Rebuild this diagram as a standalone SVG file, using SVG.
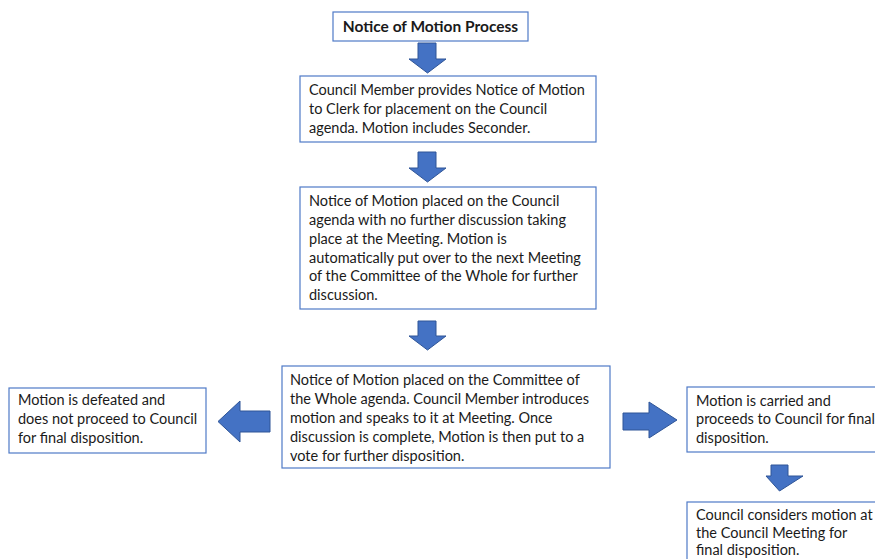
<svg xmlns="http://www.w3.org/2000/svg" width="875" height="559" viewBox="0 0 875 559">
<style>
.box{fill:#fff;stroke:#4f7ac7;stroke-width:1.2}
.t{font-family:Lato,"Liberation Sans",sans-serif;font-size:14.5px;fill:#1a1a1a}
.b{font-weight:bold;font-size:15.5px}
.arr{fill:#4472c4;stroke:#2f5597;stroke-width:1}
</style>
<rect width="875" height="559" fill="#fff"/>
<g id="connectors">
<polygon class="arr" points="418,43 436,43 436,59 446,59 427.5,73 409,59 418,59"/>
<polygon class="arr" points="418,152 436,152 436,168 446,168 427.5,182 409,168 418,168"/>
<polygon class="arr" points="418,321 436,321 436,336 446,336 427.5,350 409,336 418,336"/>
<polygon class="arr" points="270,411 240,411 240,401 218,421.5 240,442 240,432 270,432"/>
<polygon class="arr" points="623,413 649,413 649,402 677,420 649,438 649,430 623,430"/>
<polygon class="arr" points="771,465 788,465 788,476 803,476 779.5,491 766,476 771,476"/>
</g>
<g id="title">
<rect class="box" x="333" y="12" width="195" height="29"/>
<text class="t b" x="430.5" y="31.5" text-anchor="middle">Notice of Motion Process</text>
</g>
<g id="step1">
<rect class="box" x="300" y="76" width="296" height="66"/>
<text class="t" x="309"><tspan x="309" y="95">Council Member provides Notice of Motion</tspan><tspan x="309" y="114">to Clerk for placement on the Council</tspan><tspan x="309" y="133">agenda. Motion includes Seconder.</tspan></text>
</g>
<g id="step2">
<rect class="box" x="300" y="187" width="296" height="122"/>
<text class="t"><tspan x="309" y="206">Notice of Motion placed on the Council</tspan><tspan x="309" y="225">agenda with no further discussion taking</tspan><tspan x="309" y="244">place at the Meeting. Motion is</tspan><tspan x="309" y="263">automatically put over to the next Meeting</tspan><tspan x="309" y="281">of the Committee of the Whole for further</tspan><tspan x="309" y="300">discussion.</tspan></text>
</g>
<g id="step3">
<rect class="box" x="282" y="366" width="328" height="102"/>
<text class="t"><tspan x="290" y="385">Notice of Motion placed on the Committee of</tspan><tspan x="290" y="404">the Whole agenda. Council Member introduces</tspan><tspan x="290" y="423">motion and speaks to it at Meeting. Once</tspan><tspan x="290" y="442">discussion is complete, Motion is then put to a</tspan><tspan x="290" y="461">vote for further disposition.</tspan></text>
</g>
<g id="defeated">
<rect class="box" x="9" y="388" width="197" height="65"/>
<text class="t"><tspan x="18" y="405">Motion is defeated and</tspan><tspan x="18" y="424">does not proceed to Council</tspan><tspan x="18" y="443">for final disposition.</tspan></text>
</g>
<g id="carried">
<rect class="box" x="687" y="387" width="200" height="65"/>
<text class="t"><tspan x="696" y="406">Motion is carried and</tspan><tspan x="696" y="424">proceeds to Council for final</tspan><tspan x="696" y="443">disposition.</tspan></text>
</g>
<g id="council">
<rect class="box" x="687" y="502" width="200" height="70"/>
<text class="t"><tspan x="696" y="520">Council considers motion at</tspan><tspan x="696" y="538">the Council Meeting for</tspan><tspan x="696" y="555">final disposition.</tspan></text>
</g>
</svg>
